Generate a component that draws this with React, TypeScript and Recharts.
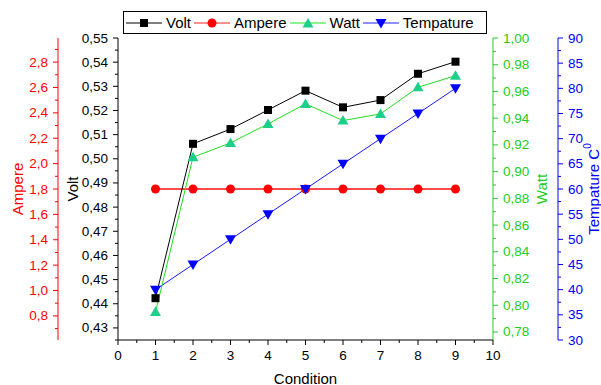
import { LineChart, Line, XAxis, YAxis } from "recharts"

const FONT = '"Liberation Sans", Arial, sans-serif'

const conditions = [1, 2, 3, 4, 5, 6, 7, 8, 9]
const volt = [0.4423, 0.5062, 0.5123, 0.5202, 0.5282, 0.5213, 0.5243, 0.5352, 0.5402]
const ampere = [1.8, 1.8, 1.8, 1.8, 1.8, 1.8, 1.8, 1.8, 1.8]
const watt = [0.795, 0.9108, 0.9215, 0.9357, 0.9507, 0.9382, 0.9432, 0.9631, 0.9718]
const tempature = [40, 45, 50, 55, 60, 65, 70, 75, 80]

// tick labels
const xTicks = [0, 1, 2, 3, 4, 5, 6, 7, 8, 9, 10]
const voltTicks = [0.43, 0.44, 0.45, 0.46, 0.47, 0.48, 0.49, 0.5, 0.51, 0.52, 0.53, 0.54, 0.55]
const ampereTicks = [0.8, 1.0, 1.2, 1.4, 1.6, 1.8, 2.0, 2.2, 2.4, 2.6, 2.8]
const wattTicks = [0.78, 0.8, 0.82, 0.84, 0.86, 0.88, 0.9, 0.92, 0.94, 0.96, 0.98, 1.0]
const tempTicks = [30, 35, 40, 45, 50, 55, 60, 65, 70, 75, 80, 85, 90]

const xDomain: [number, number] = [0, 10]
const voltDomain: [number, number] = [0.425, 0.55]
const ampereDomain: [number, number] = [0.61, 2.99]
const wattDomain: [number, number] = [0.774, 1.0]
const tempDomain: [number, number] = [30, 90]

const data = conditions.map((c, i) => ({
  condition: c,
  volt: volt[i],
  ampere: ampere[i],
  watt: watt[i],
  tempature: tempature[i],
}))

const C_VOLT = "#000000"
const C_AMP = "#ff0000"
const C_WATT = "#22cc22"
const C_TEMP = "#0000ff"

// axis ids: recharts puts the lower id next to the plot on each side
const ID_VOLT = "y1"
const ID_AMP = "y2"
const ID_WATT = "y3"
const ID_TEMP = "y4"

// majors plus the half-step minor ticks that fall inside the domain
const withMinor = (majors: number[], domain: [number, number]) => {
  const half = (majors[1] - majors[0]) / 2
  const all = [...majors, majors[0] - half, ...majors.map((m) => m + half)]
  return all
    .filter((v) => v >= domain[0] - 1e-9 && v <= domain[1] + 1e-9)
    .sort((a, b) => a - b)
}

const comma = (digits: number) => (v: number) => v.toFixed(digits).replace(".", ",")

type Side = "left" | "right" | "bottom" | "top"

const axisTick =
  (side: Side, color: string, majors: number[], fmt: (v: number) => string) => (props: any) => {
    const { x, y, payload } = props
    const v = payload.value
    const major = majors.some((m) => Math.abs(m - v) < 1e-7)
    const len = major ? 5 : 3
    const label = major ? fmt(v) : ""
    if (side === "left") {
      return (
        <g>
          <line x1={x} x2={x - len} y1={y} y2={y} stroke={color} />
          <text x={x - 10} y={y} textAnchor="end" dominantBaseline="central" fill={color} fontSize={13.5}>
            {label}
          </text>
        </g>
      )
    }
    if (side === "right") {
      return (
        <g>
          <line x1={x} x2={x + len} y1={y} y2={y} stroke={color} />
          <text x={x + 10} y={y} textAnchor="start" dominantBaseline="central" fill={color} fontSize={13.5}>
            {label}
          </text>
        </g>
      )
    }
    if (side === "top") {
      return <line x1={x} x2={x} y1={y} y2={y + len} stroke={color} />
    }
    return (
      <g>
        <line x1={x} x2={x} y1={y} y2={y + len} stroke={color} />
        <text x={x} y={y + 15} textAnchor="middle" dominantBaseline="central" fill={color} fontSize={13.5}>
          {label}
        </text>
      </g>
    )
  }

const yTitle = (content: React.ReactNode, color: string, dx: number) => (props: any) => {
  const { x, y, height } = props.viewBox
  const cx = x + dx
  const cy = y + height / 2
  return (
    <text
      x={cx}
      y={cy}
      transform={`rotate(-90 ${cx} ${cy})`}
      textAnchor="middle"
      dominantBaseline="central"
      fill={color}
      fontSize={15}
      fontFamily={FONT}
    >
      {content}
    </text>
  )
}

const xTitle = (props: any) => {
  const { x, y, width } = props.viewBox
  return (
    <text x={x + width / 2} y={y + 38} textAnchor="middle" dominantBaseline="central" fill="#000" fontSize={15}>
      Condition
    </text>
  )
}

const Square = (props: any) => {
  const { cx, cy } = props
  if (cx == null || cy == null) return null
  return <rect x={cx - 4} y={cy - 4} width={8} height={8} fill={C_VOLT} />
}

const Dot = (props: any) => {
  const { cx, cy } = props
  if (cx == null || cy == null) return null
  return <circle cx={cx} cy={cy} r={4.5} fill={C_AMP} />
}

const UpTri = (props: any) => {
  const { cx, cy } = props
  if (cx == null || cy == null) return null
  return <polygon points={`${cx},${cy - 5.5} ${cx - 5.5},${cy + 4} ${cx + 5.5},${cy + 4}`} fill="#1ccf8a" />
}

const DownTri = (props: any) => {
  const { cx, cy } = props
  if (cx == null || cy == null) return null
  return <polygon points={`${cx - 5.5},${cy - 4} ${cx + 5.5},${cy - 4} ${cx},${cy + 5.5}`} fill={C_TEMP} />
}

const legendItems = [
  { name: "Volt", line: "#555555", marker: (c: number) => <Square cx={c} cy={6} /> },
  { name: "Ampere", line: "#ff6a6a", marker: (c: number) => <Dot cx={c} cy={6} /> },
  { name: "Watt", line: "#66ee66", marker: (c: number) => <UpTri cx={c} cy={6.5} /> },
  { name: "Tempature", line: "#6a6aff", marker: (c: number) => <DownTri cx={c} cy={6} /> },
]

function ChartLegend() {
  return (
    <div
      style={{
        position: "absolute",
        left: 123,
        top: 11,
        width: 364,
        height: 23,
        boxSizing: "border-box",
        border: "1px solid #000",
        display: "flex",
        alignItems: "center",
        paddingLeft: 2,
        fontSize: 15,
        fontFamily: FONT,
        background: "#fff",
      }}
    >
      {legendItems.map((it) => (
        <div key={it.name} style={{ display: "flex", alignItems: "center", marginRight: 3 }}>
          <svg width={36} height={12} style={{ display: "block" }}>
            <line x1={0} x2={36} y1={6} y2={6} stroke={it.line} strokeWidth={1.5} />
            {it.marker(18)}
          </svg>
          <span style={{ marginLeft: 4 }}>{it.name}</span>
        </div>
      ))}
    </div>
  )
}

export default function App() {
  return (
    <div style={{ position: "absolute", left: 0, top: 0, width: 601, height: 385, fontFamily: FONT }}>
      <LineChart width={601} height={385} data={data} margin={{ top: 38, right: 0, bottom: 0, left: 0 }} style={{ fontFamily: FONT }}>
        <XAxis
          xAxisId="bottom"
          dataKey="condition"
          type="number"
          domain={xDomain}
          ticks={withMinor(xTicks, xDomain)}
          interval={0}
          height={45}
          tickSize={0}
          tickMargin={0}
          stroke={C_VOLT}
          tick={axisTick("bottom", C_VOLT, xTicks, (v) => String(v))}
          tickLine={false}
          label={xTitle}
        />
        <XAxis
          xAxisId="top"
          orientation="top"
          dataKey="condition"
          type="number"
          domain={xDomain}
          ticks={withMinor(xTicks, xDomain)}
          interval={0}
          height={0}
          tickSize={0}
          tickMargin={0}
          stroke={C_VOLT}
          tick={axisTick("top", C_VOLT, xTicks, (v) => String(v))}
          tickLine={false}
        />
        <YAxis
          yAxisId={ID_VOLT}
          orientation="left"
          width={60}
          domain={voltDomain}
          ticks={withMinor(voltTicks, voltDomain)}
          interval={0}
          allowDataOverflow
          tickSize={0}
          tickMargin={0}
          stroke={C_VOLT}
          tick={axisTick("left", C_VOLT, voltTicks, comma(2))}
          tickLine={false}
          label={yTitle("Volt", C_VOLT, 14)}
        />
        <YAxis
          yAxisId={ID_AMP}
          orientation="left"
          width={58}
          domain={ampereDomain}
          ticks={withMinor(ampereTicks, ampereDomain)}
          interval={0}
          allowDataOverflow
          tickSize={0}
          tickMargin={0}
          stroke={C_AMP}
          tick={axisTick("left", C_AMP, ampereTicks, comma(1))}
          tickLine={false}
          label={yTitle("Ampere", C_AMP, 17)}
        />
        <YAxis
          yAxisId={ID_WATT}
          orientation="right"
          width={65}
          domain={wattDomain}
          ticks={withMinor(wattTicks, wattDomain)}
          interval={0}
          allowDataOverflow
          tickSize={0}
          tickMargin={0}
          stroke={C_WATT}
          tick={axisTick("right", C_WATT, wattTicks, comma(2))}
          tickLine={false}
          label={yTitle("Watt", C_WATT, 48)}
        />
        <YAxis
          yAxisId={ID_TEMP}
          orientation="right"
          width={43}
          domain={tempDomain}
          ticks={withMinor(tempTicks, tempDomain)}
          interval={0}
          allowDataOverflow
          tickSize={0}
          tickMargin={0}
          stroke={C_TEMP}
          tick={axisTick("right", C_TEMP, tempTicks, (v) => String(v))}
          tickLine={false}
          label={yTitle(
            <>
              Tempature C<tspan dy={-6} fontSize={10}>0</tspan>
            </>,
            C_TEMP,
            35,
          )}
        />
        <Line
          xAxisId="bottom"
          yAxisId={ID_AMP}
          dataKey="ampere"
          stroke="#ff4a4a"
          strokeWidth={1.8}
          dot={<Dot />}
          isAnimationActive={false}
        />
        <Line
          xAxisId="bottom"
          yAxisId={ID_TEMP}
          dataKey="tempature"
          stroke="#1a1aff"
          strokeWidth={1}
          dot={<DownTri />}
          isAnimationActive={false}
        />
        <Line
          xAxisId="bottom"
          yAxisId={ID_WATT}
          dataKey="watt"
          stroke="#22dd22"
          strokeWidth={1}
          dot={<UpTri />}
          isAnimationActive={false}
        />
        <Line
          xAxisId="bottom"
          yAxisId={ID_VOLT}
          dataKey="volt"
          stroke={C_VOLT}
          strokeWidth={1}
          dot={<Square />}
          isAnimationActive={false}
        />
      </LineChart>
      <ChartLegend />
    </div>
  )
}
